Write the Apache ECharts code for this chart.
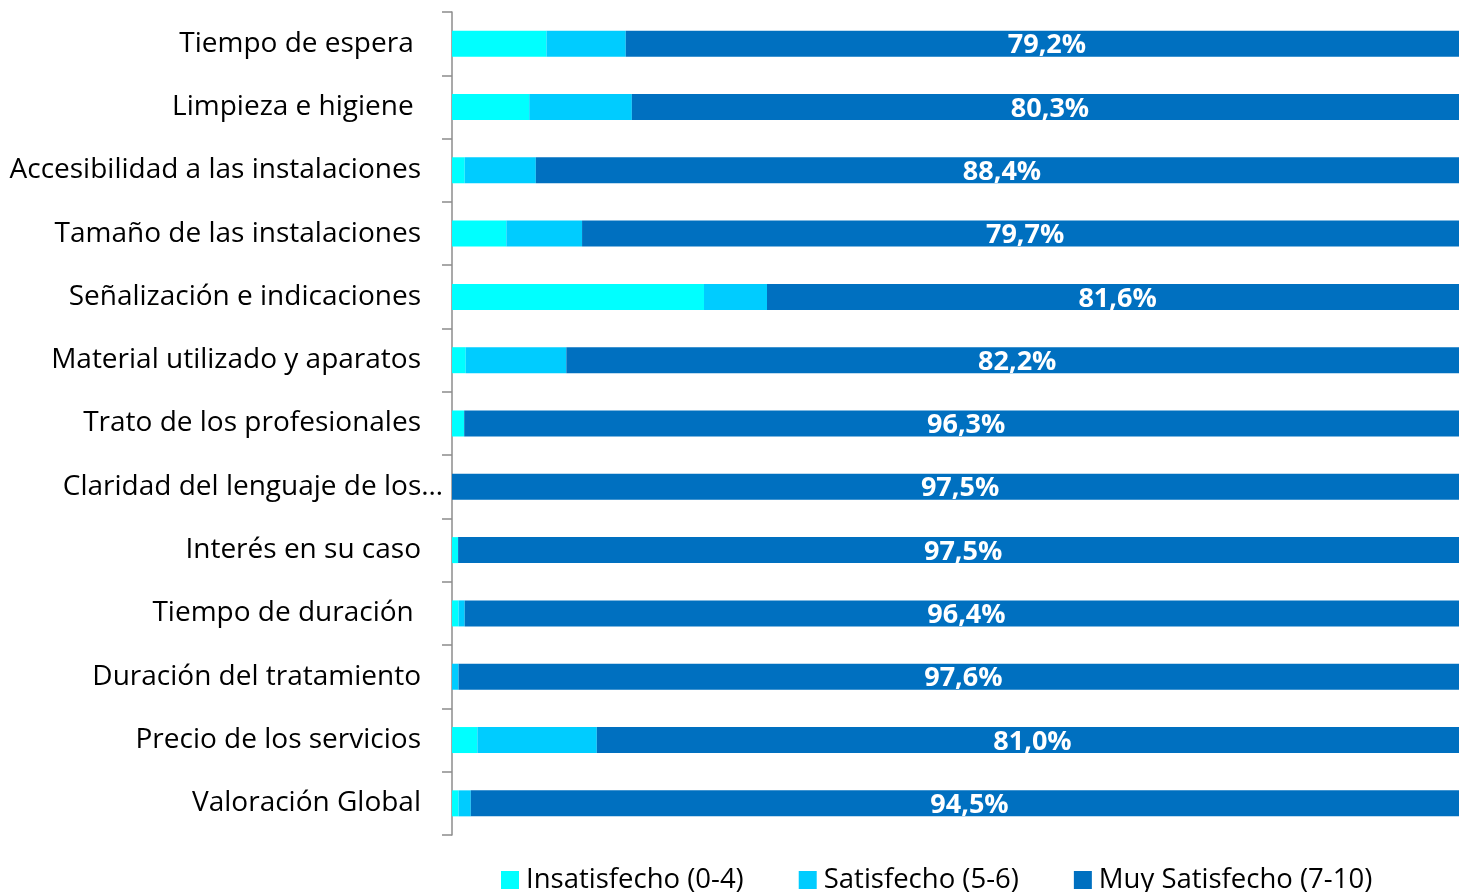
<!DOCTYPE html>
<html>
<head>
<meta charset="utf-8">
<script src="https://cdn.jsdelivr.net/npm/echarts@6/dist/echarts.min.js"></script>
<style>
  html, body { margin: 0; padding: 0; background: #fff; }
  #main { width: 1459px; height: 892px; }
</style>
</head>
<body>
<div id="main"></div>
<script>
// categorias (de arriba a abajo)
var categorias = [
  'Tiempo de espera ',
  'Limpieza e higiene ',
  'Accesibilidad a las instalaciones',
  'Tamaño de las instalaciones',
  'Señalización e indicaciones',
  'Material utilizado y aparatos',
  'Trato de los profesionales',
  'Claridad del lenguaje de los…',
  'Interés en su caso',
  'Tiempo de duración ',
  'Duración del tratamiento',
  'Precio de los servicios',
  'Valoración Global'
];
// ancho de cada tramo de la barra (% de la barra)
var insatisfecho = [9.3, 7.6, 1.25, 5.35, 24.8, 1.35, 1.2, 0, 0.6, 0.65, 0, 2.5, 0.65];
var satisfecho   = [7.8, 10.1, 7.0, 7.45, 6.2, 9.9, 0, 0, 0, 0.6, 0.65, 11.75, 1.2];
var muySatisfecho = [82.9, 82.3, 91.75, 87.2, 69.0, 88.75, 98.8, 100, 99.4, 98.75, 99.35, 85.75, 98.15];
// etiquetas que muestra el grafico
var etiquetasMuy = [79.2, 80.3, 88.4, 79.7, 81.6, 82.2, 96.3, 97.5, 97.5, 96.4, 97.6, 81.0, 94.5];

var fuente = '"Open Sans"';
var chart = echarts.init(document.getElementById('main'));

chart.setOption({
  animation: false,
  textStyle: { fontFamily: fuente },
  grid: { left: 452, right: 0, top: 12, bottom: 57 },
  legend: {
    left: 496,
    bottom: -7,
    itemWidth: 18,
    itemHeight: 18,
    itemGap: 55,
    icon: 'rect',
    textStyle: { fontFamily: fuente, fontSize: 27.5, color: '#000', padding: [0, 0, 0, 2] },
    data: ['Insatisfecho (0-4)', 'Satisfecho (5-6)', 'Muy Satisfecho (7-10)']
  },
  // la imagen esta recortada: el final de la barra (100) queda fuera del borde
  xAxis: { type: 'value', min: 0, max: 99.1, show: false },
  yAxis: {
    type: 'category',
    inverse: true,
    data: categorias,
    axisLine: { show: true, lineStyle: { color: '#8c8c8c', width: 1.5 } },
    axisTick: { show: true, length: 10, lineStyle: { color: '#8c8c8c', width: 1.5 } },
    axisLabel: {
      margin: 9,
      color: '#000',
      fontSize: 28,
      fontFamily: fuente,
      formatter: function (v) {
        //la de claridad va pegada al eje
        if (v.indexOf('Claridad') === 0) return v;
        return '{p|' + v + '}';
      },
      rich: {
        p: { padding: [0, 22, 0, 0], fontSize: 28, fontFamily: fuente, color: '#000' }
      }
    }
  },
  series: [
    {
      name: 'Insatisfecho (0-4)',
      type: 'bar',
      stack: 'total',
      barWidth: 26,
      clip: false,
      itemStyle: { color: '#00FFFF' },
      data: insatisfecho
    },
    {
      name: 'Satisfecho (5-6)',
      type: 'bar',
      stack: 'total',
      barWidth: 26,
      clip: false,
      itemStyle: { color: '#00CCFF' },
      data: satisfecho
    },
    {
      name: 'Muy Satisfecho (7-10)',
      type: 'bar',
      stack: 'total',
      barWidth: 26,
      clip: false,
      itemStyle: { color: '#0070C0' },
      label: {
        show: true,
        position: 'inside',
        color: '#fff',
        fontWeight: 'bold',
        fontSize: 27,
        fontFamily: fuente,
        offset: [0, 2],
        formatter: function (p) {
          return etiquetasMuy[p.dataIndex].toFixed(1).replace('.', ',') + '%';
        }
      },
      data: muySatisfecho
    }
  ]
});
</script>
</body>
</html>
